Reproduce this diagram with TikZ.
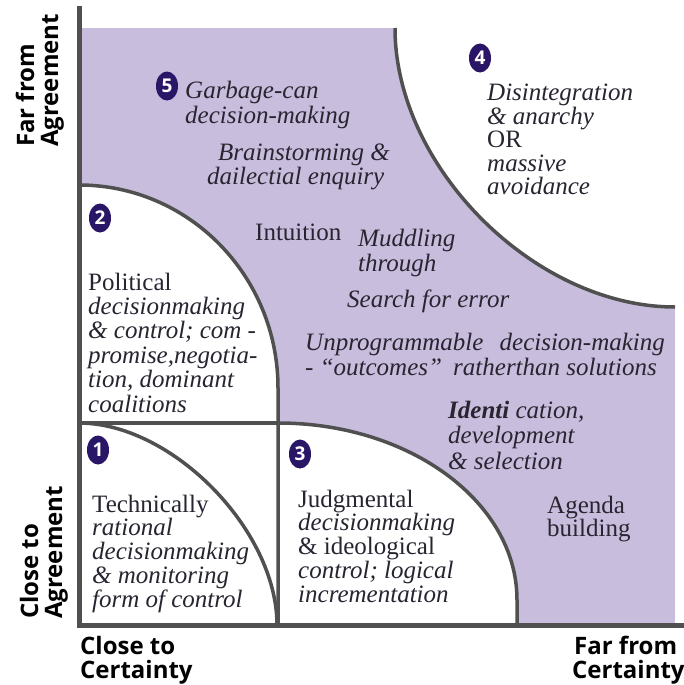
\documentclass[tikz,border=0pt]{standalone}
\usepackage{fontspec}
\usepackage{graphicx}
\usetikzlibrary{shapes.geometric}
\setmainfont{Liberation Serif}
\newfontfamily\axisfont{Open Sans}
\definecolor{lav}{RGB}{200,189,221}
\definecolor{linegray}{RGB}{80,80,80}
\definecolor{indigo}{RGB}{42,22,102}
\definecolor{ink}{RGB}{40,36,48}
\begin{document}
\begin{tikzpicture}[x=1pt,y=-1pt,
  txt/.style={anchor=base west,inner sep=0pt,text=ink,font=\fontsize{25}{25}\selectfont\itshape},
  up/.style={txt,font=\fontsize{25}{25}\selectfont\upshape},
  axl/.style={anchor=base west,inner sep=0pt,text=black,font=\axisfont\bfseries\fontsize{24}{24}\selectfont},
  num/.style={ellipse,fill=indigo,minimum width=22pt,minimum height=29pt,inner sep=0pt,text=white,font=\axisfont\bfseries\fontsize{19}{19}\selectfont},
  bound/.style={draw=linegray,line width=3.5pt},
  axisline/.style={draw=linegray,line width=5pt}]
\useasboundingbox (0,0) rectangle (684,685);
% background regions
\fill[lav] (79,28) rectangle (675,625);
\fill[white] (395,28) .. controls (395,167.5) and (535,307) .. (675,307) -- (675,28) -- cycle;
\fill[white] (79,185) .. controls (188.9,185) and (278,275.9) .. (278,388) -- (278,423) -- (79,423) -- cycle;
\fill[white] (79,423) rectangle (278,625);
\fill[white] (278,423) .. controls (410,423) and (517,502.2) .. (517,600) -- (517,625) -- (278,625) -- cycle;
% boundaries
\draw[bound] (79,423) -- (278,423);
\draw[bound] (79,185) .. controls (188.9,185) and (278,275.9) .. (278,388) -- (278,625);
\draw[bound] (278,423) .. controls (410,423) and (517,502.2) .. (517,600) -- (517,625);
\draw[bound] (79,423) .. controls (172,423) and (277,530) .. (277,625);
\draw[bound] (395,28) .. controls (395,167.5) and (535,307) .. (675,307);
% axes
\draw[axisline] (79,6) -- (79,627.5);
\draw[axisline] (76.5,625) -- (684,625);
% numbers
\node[num] (n5) at (167,86) {5};
\node[num] (n4) at (480,58) {4};
\node[num] (n2) at (100,218) {2};
\node[num] (n1) at (98,450) {1};
\node[num] (n3) at (300,454) {3};
% zone 5 texts
\node[txt] (g1) at (185,98) {Garbage-can};
\node[txt] (g2) at (185,123) {decision-making};
\node[txt] (b1) at (218,160) {Brainstorming \&};
\node[txt] (b2) at (207,184) {dailectial enquiry};
\node[up] (in) at (255,240) {Intuition};
\node[txt] (m1) at (358,246) {Muddling};
\node[txt] (m2) at (358,271) {through};
\node[txt] (se) at (347,307) {Search for error};
\node[txt] (u1) at (305,350) {Unprogrammable\hspace{0.4em} decision-making};
\node[txt] (u2) at (305,375) {- “outcomes”\hspace{0.2em} ratherthan solutions};
\node[txt] (i1) at (448,418) {\textbf{Identi} cation,};
\node[txt] (i2) at (448,443) {development};
\node[txt] (i3) at (448,469) {\& selection};
\node[up] (a1) at (547,513) {Agenda};
\node[up] (a2) at (547,536) {building};
% zone 4
\node[txt] (d1) at (487,100) {Disintegration};
\node[txt] (d2) at (487,124) {\& anarchy};
\node[up] (d3) at (487,147) {OR};
\node[txt] (d4) at (487,171) {massive};
\node[txt] (d5) at (487,194) {avoidance};
% zone 2
\node[up] (p1) at (88,290) {Political};
\node[txt] (p2) at (88,314) {decisionmaking};
\node[txt] (p3) at (88,338) {\& control; com -};
\node[txt] (p4) at (88,363) {promise,negotia-};
\node[txt] (p5) at (88,387) {tion, dominant};
\node[txt] (p6) at (88,412) {coalitions};
% zone 1
\node[up] (t1) at (92,512) {Technically};
\node[txt] (t2) at (92,535) {rational};
\node[txt] (t3) at (92,559) {decisionmaking};
\node[txt] (t4) at (92,583) {\& monitoring};
\node[txt] (t5) at (92,607) {form of control};
% zone 3
\node[up] (j1) at (298,507) {Judgmental};
\node[txt] (j2) at (298,530) {decisionmaking};
\node[up] (j3) at (298,554) {\& ideological};
\node[txt] (j4) at (298,578) {control; logical};
\node[txt] (j5) at (298,602) {incrementation};
% axis labels
\node[axl,rotate=90] (fa1) at (34,147) {Far from};
\node[axl,rotate=90] (fa2) at (58,147) {Agreement};
\node[axl,rotate=90] (ca1) at (38,619) {Close to};
\node[axl,rotate=90] (ca2) at (62,619) {Agreement};
\node[axl] (cc1) at (80,654) {Close to};
\node[axl] (cc2) at (80,678) {Certainty};
\node[axl] (fc1) at (574,654) {Far from};
\node[axl] (fc2) at (572,678) {Certainty};
\end{tikzpicture}
\end{document}
